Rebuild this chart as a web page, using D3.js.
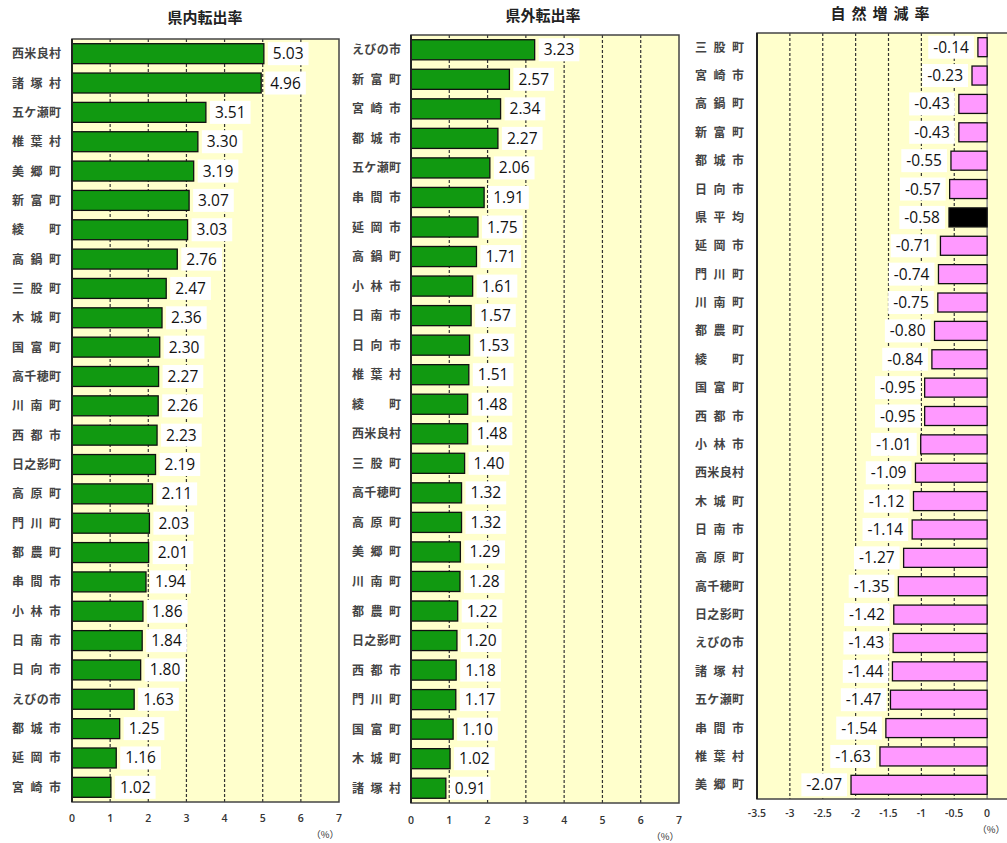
<!DOCTYPE html>
<html>
<head>
<meta charset="utf-8">
<script src="https://d3js.org/d3.v7.min.js"></script>
<style>
  body { margin: 0; background: #fff; }
  svg { display: block; }
</style>
</head>
<body>
<div id="chart"></div>
<script>
// 県内転出率
var names1 = ["西米良村", "諸塚村", "五ケ瀬町", "椎葉村", "美郷町", "新富町", "綾町", "高鍋町", "三股町", "木城町",
  "国富町", "高千穂町", "川南町", "西都市", "日之影町", "高原町", "門川町", "都農町", "串間市", "小林市",
  "日南市", "日向市", "えびの市", "都城市", "延岡市", "宮崎市"];
var values1 = [5.03, 4.96, 3.51, 3.30, 3.19, 3.07, 3.03, 2.76, 2.47, 2.36,
  2.30, 2.27, 2.26, 2.23, 2.19, 2.11, 2.03, 2.01, 1.94, 1.86,
  1.84, 1.80, 1.63, 1.25, 1.16, 1.02];

// 県外転出率
var names2 = ["えびの市", "新富町", "宮崎市", "都城市", "五ケ瀬町", "串間市", "延岡市", "高鍋町", "小林市", "日南市",
  "日向市", "椎葉村", "綾町", "西米良村", "三股町", "高千穂町", "高原町", "美郷町", "川南町", "都農町",
  "日之影町", "西都市", "門川町", "国富町", "木城町", "諸塚村"];
var values2 = [3.23, 2.57, 2.34, 2.27, 2.06, 1.91, 1.75, 1.71, 1.61, 1.57,
  1.53, 1.51, 1.48, 1.48, 1.40, 1.32, 1.32, 1.29, 1.28, 1.22,
  1.20, 1.18, 1.17, 1.10, 1.02, 0.91];

// 自然増減率
var names3 = ["三股町", "宮崎市", "高鍋町", "新富町", "都城市", "日向市", "県平均", "延岡市", "門川町", "川南町",
  "都農町", "綾町", "国富町", "西都市", "小林市", "西米良村", "木城町", "日南市", "高原町", "高千穂町",
  "日之影町", "えびの市", "諸塚村", "五ケ瀬町", "串間市", "椎葉村", "美郷町"];
var values3 = [-0.14, -0.23, -0.43, -0.43, -0.55, -0.57, -0.58, -0.71, -0.74, -0.75,
  -0.80, -0.84, -0.95, -0.95, -1.01, -1.09, -1.12, -1.14, -1.27, -1.35,
  -1.42, -1.43, -1.44, -1.47, -1.54, -1.63, -2.07];

var ticks1 = [0, 1, 2, 3, 4, 5, 6, 7];
var ticks3 = [-3.5, -3, -2.5, -2, -1.5, -1, -0.5, 0];

var svg = d3.select("#chart").append("svg")
  .attr("width", 1007)
  .attr("height", 843);

var jp = "'Noto Sans CJK JP', 'Noto Sans', sans-serif";
var num = "'Open Sans', 'Noto Sans', sans-serif";

function drawPanel(p) {
  var x = d3.scaleLinear().domain(p.domain).range([p.left, p.right]);
  var y = d3.scaleBand().domain(p.names).range([p.top, p.bottom])
    .paddingInner(p.pad).paddingOuter(p.pad / 2);

  var g = svg.append("g");

  // background
  g.append("rect")
    .attr("x", p.left).attr("y", p.top)
    .attr("width", p.right - p.left).attr("height", p.bottom - p.top)
    .attr("fill", "#ffffcc");

  // dashed grid
  g.selectAll(".grid")
    .data(p.ticks.filter(function (t) { return t != p.domain[0] && t != p.domain[1] && t != 0; }))
    .enter().append("line")
    .attr("x1", function (d) { return x(d); })
    .attr("x2", function (d) { return x(d); })
    .attr("y1", p.top).attr("y2", p.bottom)
    .attr("stroke", "#333")
    .attr("stroke-width", 1.2)
    .attr("stroke-dasharray", "3,2");

  if (p.domain[0] < 0) {
    g.append("line")
      .attr("x1", x(0)).attr("x2", x(0))
      .attr("y1", p.top).attr("y2", p.bottom)
      .attr("stroke", "#888").attr("stroke-width", 1.5);
  }

  // bars
  var data = p.names.map(function (n, i) { return { name: n, value: p.values[i] }; });
  g.selectAll(".bar").data(data).enter().append("rect")
    .attr("x", function (d) { return Math.min(x(0), x(d.value)); })
    .attr("y", function (d) { return y(d.name); })
    .attr("width", function (d) { return Math.abs(x(d.value) - x(0)); })
    .attr("height", y.bandwidth())
    .attr("fill", function (d) { return d.name == "県平均" ? "#000" : p.color; })
    .attr("stroke", "#111")
    .attr("stroke-width", 1.3);

  // value labels
  var lab = g.selectAll(".lab").data(data).enter().append("g");
  lab.each(function (d) {
    var el = d3.select(this);
    var cy = y(d.name) + y.bandwidth() / 2;
    var t = el.append("text")
      .attr("y", cy + 5.5)
      .attr("font-family", num)
      .attr("font-size", 15.5)
      .attr("fill", "#111")
      .text(d.value.toFixed(2));
    var w = t.node().getComputedTextLength();
    var bx = d.value >= 0 ? x(d.value) + 4 : x(d.value) - 4 - (w + 10);
    t.attr("x", bx + 5);
    el.insert("rect", "text")
      .attr("x", bx).attr("y", cy - 11.5)
      .attr("width", w + 10).attr("height", 23)
      .attr("fill", "#fff");
  });

  // border
  g.append("rect")
    .attr("x", p.left).attr("y", p.top)
    .attr("width", p.right - p.left).attr("height", p.bottom - p.top)
    .attr("fill", "none")
    .attr("stroke", "#444")
    .attr("stroke-width", 1.5);
  g.append("line")
    .attr("x1", p.left).attr("x2", p.left)
    .attr("y1", p.top).attr("y2", p.bottom)
    .attr("stroke", "#222").attr("stroke-width", 2);

  // category labels
  g.selectAll(".cat").data(data).enter().append("text")
    .attr("x", p.labelX)
    .attr("y", function (d) { return y(d.name) + y.bandwidth() / 2 + 4.5; })
    .attr("font-family", jp)
    .attr("font-size", 12)
    .attr("font-weight", "bold")
    .attr("fill", "#444")
    .attr("textLength", 49)
    .attr("lengthAdjust", "spacing")
    .text(function (d) { return d.name; });

  // x ticks
  g.selectAll(".tick").data(p.ticks).enter().append("text")
    .attr("x", function (d) { return x(d); })
    .attr("y", p.tickY)
    .attr("text-anchor", "middle")
    .attr("font-family", num)
    .attr("font-size", 10.5)
    .attr("font-weight", 600)
    .attr("fill", "#333")
    .text(function (d) { return d; });

  g.append("text")
    .attr("x", p.unitX)
    .attr("y", p.tickY + 16)
    .attr("text-anchor", "end")
    .attr("font-family", jp)
    .attr("font-size", 9.5)
    .attr("fill", "#333")
    .text("（%）");

  // title
  g.append("text")
    .attr("x", p.titleX).attr("y", p.titleY)
    .attr("text-anchor", "middle")
    .attr("font-family", jp)
    .attr("font-size", 15)
    .attr("font-weight", "bold")
    .attr("fill", "#222")
    .attr("letter-spacing", p.titleSpacing)
    .text(p.title);
}

drawPanel({
  names: names1, values: values1, domain: [0, 7], ticks: ticks1,
  left: 72, right: 339, top: 39, bottom: 802, pad: 0.32,
  color: "#119911", labelX: 12, tickY: 822, unitX: 339,
  title: "県内転出率", titleX: 205, titleY: 23, titleSpacing: 0
});

drawPanel({
  names: names2, values: values2, domain: [0, 7], ticks: ticks1,
  left: 411, right: 679, top: 35, bottom: 803, pad: 0.32,
  color: "#119911", labelX: 352, tickY: 824, unitX: 679,
  title: "県外転出率", titleX: 543, titleY: 21, titleSpacing: 0
});

drawPanel({
  names: names3, values: values3, domain: [-3.5, 0.5], ticks: ticks3,
  left: 757, right: 1020, top: 33, bottom: 799, pad: 0.33,
  color: "#ff99ff", labelX: 695, tickY: 817, unitX: 1005,
  title: "自然増減率", titleX: 883, titleY: 19, titleSpacing: 6
});
</script>
</body>
</html>
